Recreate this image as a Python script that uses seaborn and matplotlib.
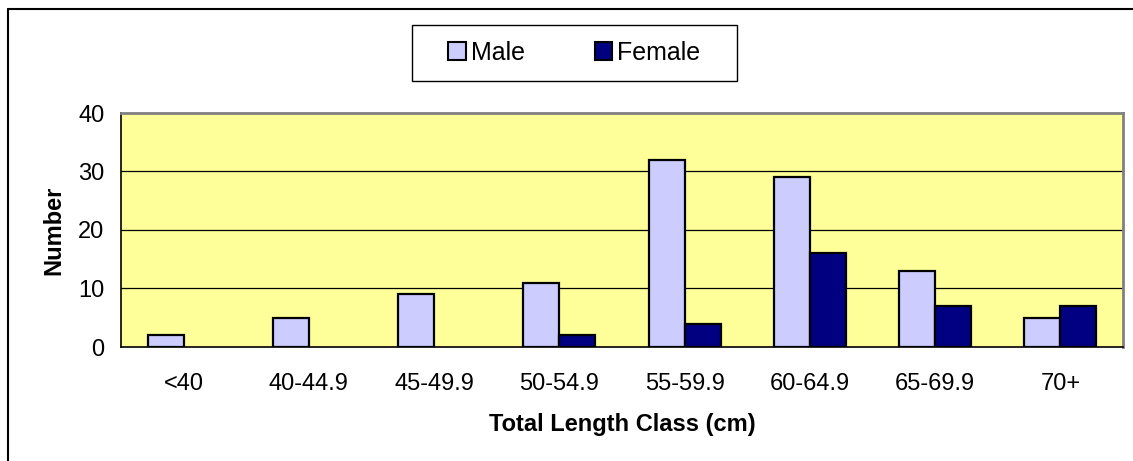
import matplotlib
matplotlib.use("Agg")
import matplotlib.pyplot as plt
import numpy as np
import pandas as pd
import seaborn as sns
from matplotlib.patches import Patch, Rectangle

sns.set_style("white")
plt.rcParams["font.family"] = ["Liberation Sans", "DejaVu Sans"]
plt.rcParams["text.color"] = "black"
plt.rcParams["axes.labelcolor"] = "black"
plt.rcParams["xtick.color"] = "black"
plt.rcParams["ytick.color"] = "black"

# data
length_classes = ["<40", "40-44.9", "45-49.9", "50-54.9", "55-59.9", "60-64.9", "65-69.9", "70+"]
male = [2, 5, 9, 11, 32, 29, 13, 5]
female = [0, 0, 0, 2, 4, 16, 7, 7]
sexes = ["Male", "Female"]
colors = {"Male": "#CCCCFF", "Female": "#000080"}

df = pd.DataFrame({
    "cls": length_classes * 2,
    "count": male + female,
    "sex": ["Male"] * len(male) + ["Female"] * len(female),
})

W, H = 1133, 461
fig = plt.figure(figsize=(W / 100, H / 100), dpi=100)
ax = fig.add_axes([121 / W, 1 - 347 / H, 1002 / W, 234 / H])

sns.barplot(
    data=df, x="cls", y="count", hue="sex", hue_order=sexes,
    palette=colors, width=0.575, edgecolor="black", linewidth=1.6,
    saturation=1, ax=ax, legend=False,
)
# hide outlines of empty bars
for p in ax.patches:
    if p.get_height() == 0:
        p.set_visible(False)

ax.set_facecolor("#FFFF99")
ax.set_xlim(-0.5, len(length_classes) - 0.5)
ax.set_ylim(0, 40)
ax.set_yticks([0, 10, 20, 30, 40])
for y in [10, 20, 30]:
    ax.axhline(y, color="black", linewidth=0.9, zorder=0.5)

ax.spines["left"].set_color("black")
ax.spines["bottom"].set_color("black")
ax.spines["left"].set_linewidth(1.2)
ax.spines["bottom"].set_linewidth(1.2)
for s in ["top", "right"]:
    ax.spines[s].set_color("#808080")
    ax.spines[s].set_linewidth(2)

ax.set_xticks(np.arange(-0.5, len(length_classes), 1.0), minor=True)
ax.tick_params(axis="x", which="major", length=0, labelsize=17, pad=18.5)
ax.tick_params(axis="x", which="minor", length=5, width=1, direction="out", color="black")
ax.tick_params(axis="y", length=5, width=1, direction="out", color="black", labelsize=17, pad=7)

ax.set_xlabel("Total Length Class (cm)", fontsize=17, fontweight="bold", labelpad=13.5)
ax.set_ylabel("Number", fontsize=17, fontweight="bold", labelpad=9)

# legend: frameless entries inside a hand-sized box like the Excel one
handles = [Patch(facecolor=colors[s], edgecolor="black", linewidth=1.5) for s in sexes]
fig.legend(
    handles, sexes, loc="center", bbox_to_anchor=(574.5 / W, 1 - 53 / H),
    ncol=2, fontsize=18, frameon=False,
    handlelength=0.7, handleheight=0.7, handletextpad=0.2, columnspacing=2.8,
    borderpad=0, borderaxespad=0,
)
fig.add_artist(Rectangle((412 / W, 1 - 81 / H), 325 / W, 56 / H, transform=fig.transFigure,
                         facecolor="white", edgecolor="black", linewidth=1.0, zorder=-1))

# outer chart border (left and top only visible)
fig.add_artist(plt.Line2D([8 / W, 8 / W], [0, 1 - 9 / H], color="black", linewidth=1.5, transform=fig.transFigure))
fig.add_artist(plt.Line2D([8 / W, 1], [1 - 9 / H, 1 - 9 / H], color="black", linewidth=1.5, transform=fig.transFigure))

fig.savefig("out.png", dpi=100)
